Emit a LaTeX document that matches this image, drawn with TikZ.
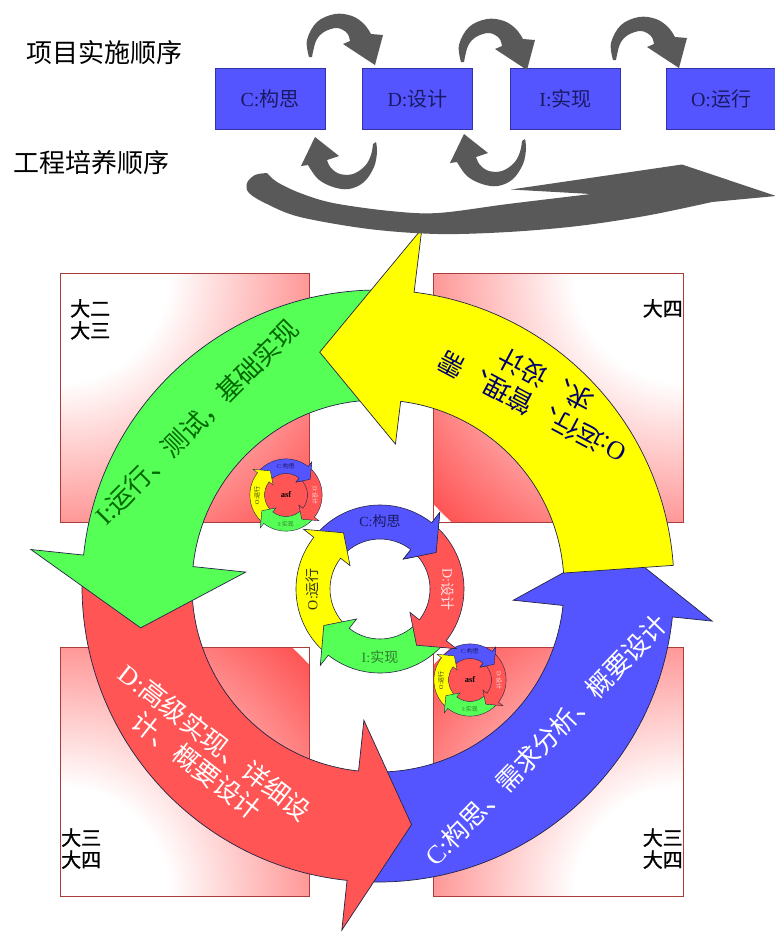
\documentclass[tikz,border=0pt]{standalone}
\usepackage{fontspec}
\setmainfont{Liberation Serif}
\newfontfamily\cj{Noto Sans CJK SC}
\newfontfamily\cjh[FakeBold=1.2]{Noto Sans CJK SC}
\definecolor{sqred}{RGB}{255,85,85}
\definecolor{sqedge}{RGB}{170,60,60}
\definecolor{ayellow}{RGB}{255,255,0}
\definecolor{agreen}{RGB}{85,255,85}
\definecolor{ared}{RGB}{255,85,85}
\definecolor{ablue}{RGB}{85,85,255}
\definecolor{aedge}{RGB}{35,35,70}
\definecolor{gry}{RGB}{89,89,89}
\definecolor{boxedge}{RGB}{50,50,170}
\definecolor{boxtext}{RGB}{25,25,100}
\definecolor{navytext}{RGB}{0,0,110}
\definecolor{gtext}{RGB}{0,105,0}
\definecolor{itext}{RGB}{50,125,50}
\definecolor{dtext}{RGB}{255,225,225}
\definecolor{otext}{RGB}{50,50,20}
\pgfdeclareradialshading{cornerfade}{\pgfpoint{0bp}{0bp}}{color(0bp)=(white); color(8bp)=(white); color(25bp)=(sqred); color(50bp)=(sqred)}

\tikzset{
  arrowY/.style={fill=ayellow, draw=aedge, line join=miter},
  arrowG/.style={fill=agreen, draw=aedge, line join=miter},
  arrowR/.style={fill=ared, draw=aedge, line join=miter},
  arrowB/.style={fill=ablue, draw=aedge, line join=miter},
  grayshape/.style={fill=gry},
  sqframe/.style={draw=sqedge, line width=0.7pt},
  flowbox/.style={draw=boxedge, line width=0.7pt, fill=ablue, minimum width=110pt, minimum height=61pt, inner sep=0pt, text=boxtext, font=\fontsize{20}{24}\selectfont},
  yearlab/.style={font=\cjh\fontsize{20}{22}\selectfont, inner sep=0pt, align=left, text=black},
  bigtext/.style={inner sep=0pt},
  headtext/.style={font=\cj\fontsize{26}{30}\selectfont, inner sep=0pt, text=black},
}

% #1 style, #2 tail angle, #3 base angle, #4 tip angle, #5 inner r, #6 outer r, #7 head inner r, #8 head outer r
\newcommand{\carrow}[8]{%
  \filldraw[#1] (#2:#5) arc[start angle=#2, end angle=#3, radius=#5] -- (#3:#7) -- ({#4}:{(#5+#6)/2}) -- (#3:#8) -- (#3:#6) arc[start angle=#3, end angle=#2, radius=#6] -- cycle;}
\newcommand{\carrowhead}[8]{%
  \filldraw[#1] (#3:#5) -- (#3:#7) -- ({#4}:{(#5+#6)/2}) -- (#3:#8) -- (#3:#6);}

\newcommand{\minicycle}{%
  \carrow{arrowB}{137}{52}{33}{50}{84}{38}{97}
  \carrow{arrowY}{-133}{-218}{-237}{50}{84}{38}{97}
  \carrow{arrowG}{-43}{-128}{-147}{50}{84}{38}{97}
  \carrow{arrowR}{47}{-38}{-57}{50}{84}{38}{97}
  \carrowhead{arrowB}{137}{52}{33}{50}{84}{38}{97}}

\newcommand{\minilabels}[2]{%
  \node[text=boxtext, font=#1, inner sep=0pt] (#2c) at (90:68) {C:\cj 构思};
  \node[text=dtext, font=#1, inner sep=0pt, rotate=-90] (#2d) at (0:68) {D:\cj 设计};
  \node[text=itext, font=#1, inner sep=0pt] (#2i) at (-90:68) {I:\cj 实现};
  \node[text=otext, font=#1, inner sep=0pt, rotate=90] (#2o) at (180:68) {O:\cj 运行};}

\begin{document}
\begin{tikzpicture}[x=1pt,y=1pt]
\useasboundingbox (0,0) rectangle (775,-932);
\clip (0,0) rectangle (775,-932);
\fill[white] (0,0) rectangle (775,-932);

% gradient squares
\foreach \xa/\ya/\xb/\yb/\xc/\yc in {60/273/309/522/60/273, 433/273/683/522/683/273, 60/647/309/896/60/896, 433/647/683/896/683/896} {
  \begin{scope}
    \clip (\xa,-\ya) rectangle (\xb,-\yb);
    \shade[shading=cornerfade] (\xc,-\yc) circle (340);
  \end{scope}
  \draw[sqframe] (\xa,-\ya) rectangle (\xb,-\yb);
}

\node[yearlab, anchor=north west] (ytl) at (70,-299) {大二\\大三};
\node[yearlab, anchor=north east] (ytr) at (683,-299) {大四};
\node[yearlab, anchor=south west] (ybl) at (61,-869) {大三\\大四};
\node[yearlab, anchor=south east] (ybr) at (683,-869) {大三\\大四};

% big ring
\begin{scope}[shift={(378,-586)}, line width=0.7pt]
  \carrow{arrowB}{268}{354}{370}{186}{296}{136}{336}
  \carrow{arrowR}{180}{264}{278}{186}{296}{135}{346}
  \carrow{arrowG}{90}{174}{190}{186}{296}{133}{349}
  \carrow{arrowY}{4}{83}{104}{186}{296}{143}{360}
\end{scope}

% satellite rings
\begin{scope}[shift={(286,-495)}, scale=0.43, line width=0.4pt]
  \fill[ared] (0,0) circle (50);
  \minicycle
  \minilabels{\fontsize{6}{7}\selectfont}{sa}
  \node[font=\bfseries\fontsize{8.5}{9}\selectfont, inner sep=0pt] (saasf) at (0,0) {asf};
\end{scope}
\begin{scope}[shift={(470,-680)}, scale=0.43, line width=0.4pt]
  \fill[ared] (0,0) circle (50);
  \minicycle
  \minilabels{\fontsize{6}{7}\selectfont}{sb}
  \node[font=\bfseries\fontsize{8.5}{9}\selectfont, inner sep=0pt] (sbasf) at (0,0) {asf};
\end{scope}

% middle ring
\begin{scope}[shift={(380,-589)}, line width=0.6pt]
  \minicycle
  \minilabels{\fontsize{14}{16}\selectfont}{m}
\end{scope}

% big ring texts
\node[bigtext, font=\fontsize{26}{31}\selectfont, text=gtext, rotate=45] (gtxt) at (197,-422) {I:\cj 运行、测试，基础实现};
\node[bigtext, font=\fontsize{26}{31}\selectfont, text=navytext, rotate=152, align=center] (ytxt) at (539,-394) {O:\cj 运行、管理、需\\\cj 求、设计};
\node[bigtext, font=\fontsize{26}{30}\selectfont, text=white, rotate=-38, align=center] (rtxt) at (206,-754) {D:\cj 高级实现、详细设\\\cj 计、概要设计};
\node[bigtext, font=\fontsize{26}{31}\selectfont, text=white, rotate=46] (btxt) at (546,-740) {C:\cj 构思、需求分析、概要设计};

% top section
\node[headtext] (t1) at (105,-53) {项目实施顺序};
\node[headtext] (t2) at (91,-163) {工程培养顺序};
\node[flowbox] (bc) at (270,-98.5) {C:\cj 构思};
\node[flowbox] (bd) at (417.5,-98.5) {D:\cj 设计};
\node[flowbox] (bi) at (565.5,-98.5) {I:\cj 实现};
\node[flowbox] (bo) at (721,-98.5) {O:\cj 运行};

% hook arrows above boxes
\foreach \dx/\dy in {0/0, 152/-5, 304/-3} {
  \begin{scope}[shift={(\dx,\dy)}]
    \fill[grayshape] plot[smooth, tension=0.6] coordinates {(309,-57) (307,-40) (317,-22) (335,-14) (352,-16) (364,-24) (371,-34)}
      -- (383,-35) -- (375,-65) -- (343,-44) -- (350,-41)
      -- plot[smooth, tension=0.6] coordinates {(350,-41) (347,-33) (337,-28) (324,-32) (316,-41) (312,-57)} -- cycle;
  \end{scope}
}

% small hooks below boxes
\foreach \dx/\dy in {0/0, 149/3} {
  \begin{scope}[shift={(\dx,\dy)}]
    \fill[grayshape] (315,-137) -- (301,-166)
      -- plot[smooth, tension=0.6] coordinates {(308,-165) (318,-179) (333,-187) (349,-189) (364,-182) (374,-167) (377,-152) (376,-142)}
      -- plot[smooth, tension=0.6] coordinates {(373,-144) (371,-155) (365,-166) (353,-174) (340,-174) (331,-168) (327,-160)}
      -- (339,-156) -- cycle;
  \end{scope}
}

% big swoosh
\fill[grayshape] plot[smooth, tension=0.55] coordinates {(267,-173) (277,-182) (300,-193) (333,-203) (390,-211) (438,-213) (508,-204) (591,-194)}
  -- (511,-189.5) -- (682,-164.5) -- (776,-196) -- (712,-202)
  -- plot[smooth, tension=0.55] coordinates {(712,-202) (647,-215.6) (578,-226) (508,-232) (438,-234) (369,-229) (300,-217) (267,-204) (249,-193) (247,-183) (255,-175) (267,-173)} -- cycle;
\end{tikzpicture}
\end{document}
